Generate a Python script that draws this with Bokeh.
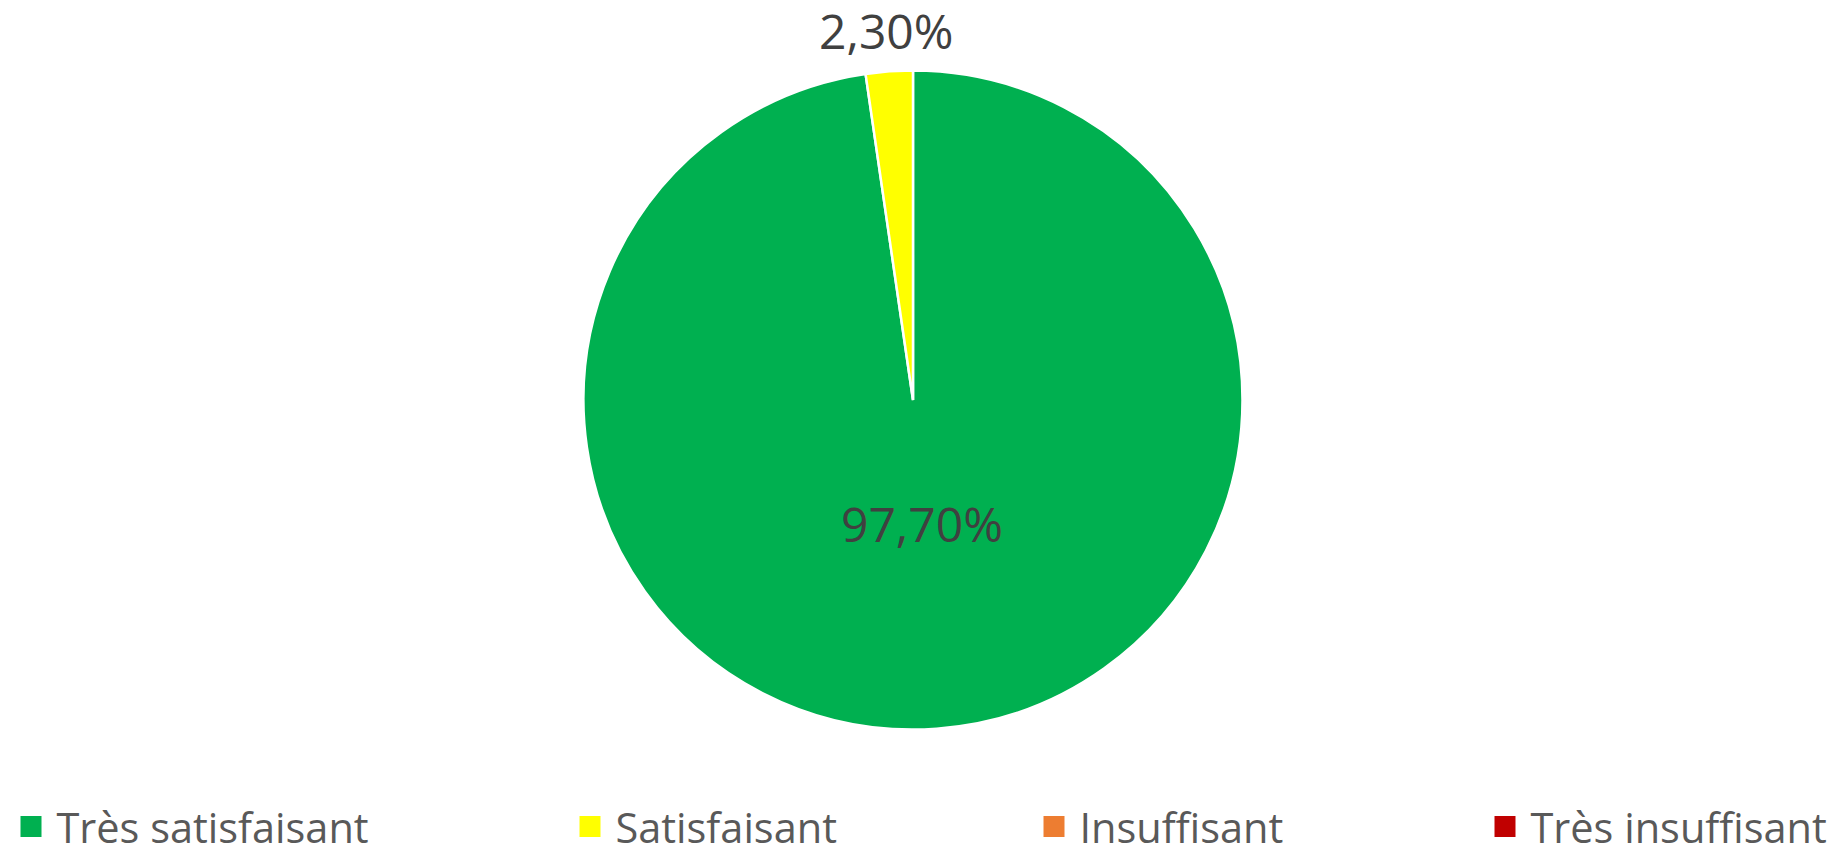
import math
from bokeh.plotting import figure
from bokeh.models import ColumnDataSource
from bokeh.core.properties import value
from bokeh.embed import file_html
from bokeh.resources import INLINE

categories = ["Très satisfaisant", "Satisfaisant", "Insuffisant", "Très insuffisant"]
percents = [97.70, 2.30, 0.0, 0.0]
colors = ["#00B050", "#FFFF00", "#ED7D31", "#C00000"]

W, H = 1837, 846
p = figure(width=W, height=H, x_range=(0, W), y_range=(0, H),
           output_backend="svg", toolbar_location=None, min_border=0)
p.axis.visible = False
p.grid.visible = False
p.outline_line_color = None
p.background_fill_color = "white"
p.border_fill_color = "white"

# pie geometry (data units = pixels)
cx, cy, r = 912.5, 446.5, 329.5
total = sum(percents)
starts, ends, cols, labs, lx, ly = [], [], [], [], [], []
cum = 0.0
for i, v in enumerate(percents):
    if v <= 0:
        continue
    a0 = math.pi / 2 - 2 * math.pi * cum / total
    cum += v
    a1 = math.pi / 2 - 2 * math.pi * cum / total
    starts.append(a0)
    ends.append(a1)
    cols.append(colors[i])
    mid = (a0 + a1) / 2
    f = 0.375 if v / total > 0.5 else 1.125
    lx.append(cx + f * r * math.cos(mid))
    ly.append(cy + f * r * math.sin(mid))
    labs.append(f"{v:.2f}".replace(".", ",") + "%")

src = ColumnDataSource(dict(start=starts, end=ends, color=cols))
p.wedge(x=cx, y=cy, radius=r, start_angle="start", end_angle="end",
        direction="clock", fill_color="color", line_color="white",
        line_width=2.5, source=src)

p.text(x=lx, y=ly, text=labs, text_font=value("Open Sans"),
       text_font_size="48px", text_color="#404040",
       text_align="center", text_baseline="middle")

# legend
leg_sq_x = [20, 579, 1043, 1494]
leg_y = 20
p.rect(x=[x + 10.5 for x in leg_sq_x], y=leg_y, width=21, height=21,
       fill_color=colors, line_color=None)
p.text(x=[x + 36 for x in leg_sq_x], y=leg_y, text=categories,
       text_font=value("Open Sans"), text_font_size="41.5px",
       text_color="#595959", text_align="left", text_baseline="middle")

open("out.html", "w").write(file_html(p, INLINE))
